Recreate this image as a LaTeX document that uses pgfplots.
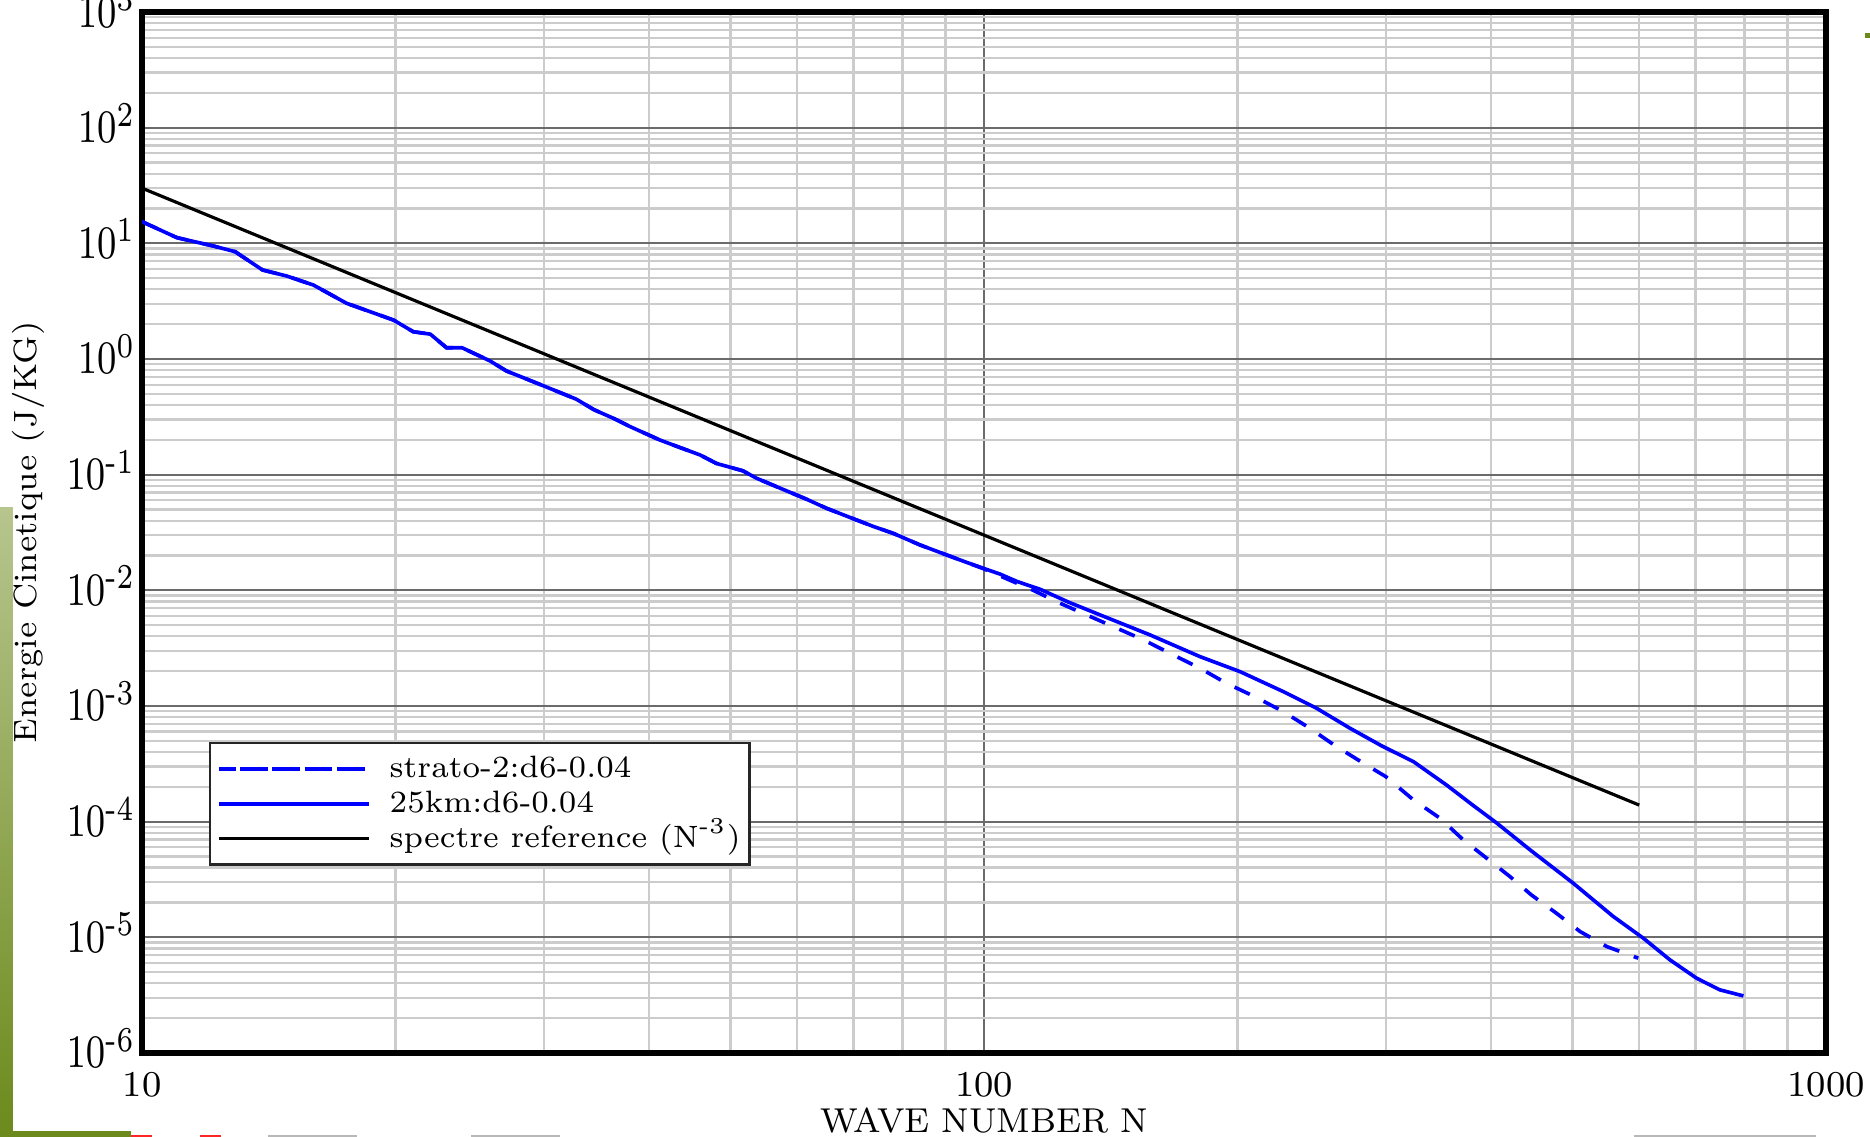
\documentclass[border=0pt]{standalone}
\usepackage{pgfplots}
\pgfplotsset{compat=1.18}
\usepackage{pgfplotstable}
\usepackage{amsmath}
\usepackage{graphicx}

\definecolor{olivelight}{HTML}{B7C58E}
\definecolor{olivedark}{HTML}{6C8A1C}

% tall tick labels on the energy axis
\newcommand{\ylab}[1]{\scalebox{1}[1.28]{$10^{#1}$}}
% legend text with a gap after the line sample
\newcommand{\legtxt}[1]{\hspace*{3.8pt}#1}

% kinetic energy spectrum, 25 km run
\pgfplotstableread{
N E
10.0 15.4
11.0 11.2
12.15 9.49
12.9 8.47
13.9 5.89
14.85 5.22
15.98 4.36
17.5 3.03
19.9 2.17
21.0 1.72
22.0 1.64
23.0 1.25
24.0 1.25
25.9 0.962
27.1 0.787
30.0 0.585
32.8 0.449
34.4 0.365
36.3 0.307
38.0 0.260
41.2 0.1995
43.5 0.172
46.0 0.148
48.1 0.125
51.7 0.108
53.7 0.093
58.3 0.0723
61.5 0.0615
65.0 0.0512
70.6 0.0405
74.0 0.0355
78.0 0.0311
83.9 0.0247
90.3 0.0202
95.0 0.0176
99.8 0.0155
104.5 0.0138
109.5 0.0119
116.6 0.0102
126.0 0.0079
137.4 0.00612
157.5 0.00411
180.5 0.00267
201.4 0.00198
226.7 0.00133
248.3 9.55e-4
272.1 6.41e-4
297.0 4.50e-4
323.6 3.30e-4
354.3 2.07e-4
380.0 1.40e-4
406.5 9.7e-5
445.2 5.69e-5
501 2.93e-5
559 1.51e-5
606.7 9.82e-6
652.7 6.37e-6
701.7 4.43e-6
747.9 3.51e-6
797.9 3.11e-6
}\kmtab

% kinetic energy spectrum, strato-2 run
\pgfplotstableread{
N E
10.0 15.4
11.0 11.2
12.15 9.49
12.9 8.47
13.9 5.89
14.85 5.22
15.98 4.36
17.5 3.03
19.9 2.17
21.0 1.72
22.0 1.64
23.0 1.25
24.0 1.25
25.9 0.962
27.1 0.787
30.0 0.585
32.8 0.449
34.4 0.365
36.3 0.307
38.0 0.260
41.2 0.1995
43.5 0.172
46.0 0.148
48.1 0.125
51.7 0.108
53.7 0.093
58.3 0.0723
61.5 0.0615
65.0 0.0512
70.6 0.0405
74.0 0.0355
78.0 0.0311
83.9 0.0247
90.3 0.0202
95.0 0.0176
99.8 0.0154
104.5 0.0133
114.4 0.0100
123.1 0.00773
132.4 0.00612
143.0 0.00479
154.6 0.00373
167.8 0.00276
180.5 0.00212
194.1 0.00157
209.8 0.00120
226.7 8.93e-4
243.8 6.41e-4
262.2 4.45e-4
282.2 3.20e-4
300.0 2.45e-4
323.6 1.54e-4
348.0 1.07e-4
370.9 6.95e-5
395.4 4.82e-5
421.5 3.34e-5
446.8 2.32e-5
478.6 1.61e-5
510.4 1.12e-5
549.2 8.3e-6
598.4 6.59e-6
}\stratotab

% N^-3 reference slope
\pgfplotstableread{
N E
10 30
600 1.389e-4
}\reftab

\begin{document}
\begin{tikzpicture}
\begin{axis}[
  scale only axis,
  width=370.5pt, height=229pt,
  xmode=log, ymode=log,
  xmin=10, xmax=1000, ymin=1e-6, ymax=1e3,
  xtick={10,100,1000},
  xticklabels={10,100,1000},
  minor xtick={20,30,40,50,60,70,80,90,200,300,400,500,600,700,800,900},
  ytick={1e-6,1e-5,1e-4,1e-3,1e-2,1e-1,1,10,100,1000},
  yticklabels={\ylab{\text{-}6},\ylab{\text{-}5},\ylab{\text{-}4},\ylab{\text{-}3},\ylab{\text{-}2},\ylab{\text{-}1},\ylab{0},\ylab{1},\ylab{2},\ylab{3}},
  minor ytick={2e-6,3e-6,4e-6,5e-6,6e-6,7e-6,8e-6,9e-6,
               2e-5,3e-5,4e-5,5e-5,6e-5,7e-5,8e-5,9e-5,
               2e-4,3e-4,4e-4,5e-4,6e-4,7e-4,8e-4,9e-4,
               2e-3,3e-3,4e-3,5e-3,6e-3,7e-3,8e-3,9e-3,
               2e-2,3e-2,4e-2,5e-2,6e-2,7e-2,8e-2,9e-2,
               0.2,0.3,0.4,0.5,0.6,0.7,0.8,0.9,
               2,3,4,5,6,7,8,9,
               20,30,40,50,60,70,80,90,
               200,300,400,500,600,700,800,900},
  grid=both,
  major grid style={black!58, line width=0.45pt},
  minor grid style={black!20, line width=0.5pt},
  major tick length=0pt, minor tick length=0pt,
  axis line style={line width=1.2pt},
  tick label style={font=\fontsize{8}{9}\selectfont},
  xticklabel style={anchor=center, yshift=-7pt},
  yticklabel style={anchor=base east, yshift=-3.3pt, xshift=2.1pt},
  xlabel={WAVE NUMBER N},
  ylabel={Energie Cinetique (J/KG)},
  xlabel style={at={(axis description cs:0.5,-0.0653)}, anchor=center, font=\fontsize{7.6}{9}\selectfont},
  ylabel style={at={(axis description cs:-0.0677,0.5)}, anchor=center, font=\fontsize{7.1}{9}\selectfont},
  legend style={at={(0.0398,0.2987)}, anchor=north west,
    draw=black!85, line width=0.5pt, fill=white,
    font=\fontsize{6.8}{7}\selectfont,
    inner xsep=1.5pt, inner ysep=1.8pt, row sep=0pt,
    nodes={inner sep=0.4pt, text height=5.3pt, text depth=1.6pt}},
  legend cell align=left,
  legend image code/.code={\path (0pt,0pt) -- (33pt,0pt); \draw[#1] (4.7pt,0pt) -- (33pt,0pt);},
  /tikz/every even column/.append style={column sep=0pt},
]
\addplot[blue, line width=0.8pt, dash pattern=on 3.7pt off 3.4pt] table[x=N,y=E] {\stratotab};
\addlegendentry{\legtxt{strato-2:d6-0.04}}
\addplot[blue, line width=0.8pt] table[x=N,y=E] {\kmtab};
\addlegendentry{\legtxt{25km:d6-0.04}}
\addplot[black, line width=0.7pt] table[x=N,y=E] {\reftab};
\addlegendentry{\legtxt{spectre reference (N$^{\text{-}3}$)}}
\end{axis}
\pgfresetboundingbox
\path (-31.24pt,-18.48pt) rectangle (380.18pt,231.64pt);
% slide background pieces at the edges
\shade[top color=olivelight, bottom color=olivedark] (-31.24pt,-18.48pt) rectangle (-28.4pt,119.9pt);
\fill[olivedark] (-31.24pt,-18.48pt) rectangle ++(28.8pt,1.3pt);
\fill[red!85] (-2.4pt,-18.48pt) rectangle ++(4.6pt,0.5pt);
\fill[red!85] (12.8pt,-18.48pt) rectangle ++(4.6pt,0.5pt);
\fill[black!28] (27.7pt,-18.48pt) rectangle ++(19.6pt,0.45pt);
\fill[black!28] (72.4pt,-18.48pt) rectangle ++(19.6pt,0.45pt);
\fill[black!28] (328.2pt,-18.48pt) rectangle ++(40pt,0.45pt);
\fill[olivedark] (379.1pt,223.3pt) rectangle (380.18pt,224.4pt);
\end{tikzpicture}
\end{document}
